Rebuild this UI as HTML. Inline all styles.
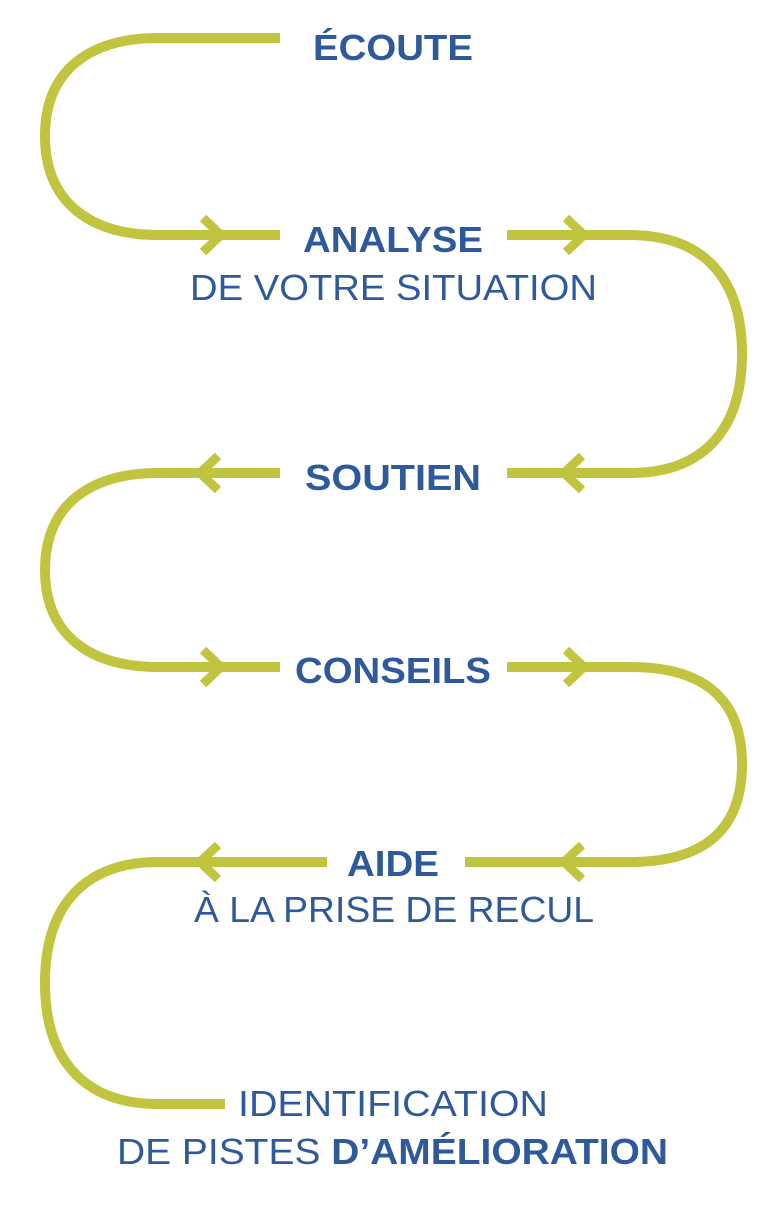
<!DOCTYPE html>
<html><head><meta charset="utf-8"><style>html,body{margin:0;padding:0;background:#fff}svg{display:block}</style></head>
<body>
<svg width="770" height="1214" viewBox="0 0 770 1214" xmlns="http://www.w3.org/2000/svg">
<g fill="none" stroke="#c0c43e" stroke-width="10">
<path d="M280 38 H158 C90 38 45 70 45 136 C45 202 90 235 158 235 H280"/>
<path d="M507 235 H630 C705 235 742 280 742 354 C742 428 705 473 630 473 H507"/>
<path d="M280 473 H158 C90 473 45 505 45 570 C45 635 90 667 158 667 H280"/>
<path d="M507 667 H630 C705 667 742 700 742 764 C742 829 705 862 630 862 H465"/>
<path d="M327 862 H158 C90 862 45 900 45 983 C45 1066 90 1104 158 1104 H225"/>
<g stroke-width="9">
<path d="M203 218 L221 235 L203 252"/>
<path d="M566 218 L584 235 L566 252"/>
<path d="M582 456 L564 473 L582 490"/>
<path d="M218 456 L200 473 L218 490"/>
<path d="M203 650 L221 667 L203 684"/>
<path d="M566 650 L584 667 L566 684"/>
<path d="M582 845 L564 862 L582 879"/>
<path d="M218 845 L200 862 L218 879"/>
</g>
</g>
<g fill="#2e5a9c" font-family="Liberation Sans, sans-serif" font-size="36" lengthAdjust="spacingAndGlyphs">
<text x="313" y="60" font-weight="bold" textLength="160" lengthAdjust="spacingAndGlyphs">ÉCOUTE</text>
<text x="303" y="252" font-weight="bold" textLength="180" lengthAdjust="spacingAndGlyphs">ANALYSE</text>
<text x="190" y="300" textLength="407" lengthAdjust="spacingAndGlyphs">DE VOTRE SITUATION</text>
<text x="305" y="490" font-weight="bold" textLength="176" lengthAdjust="spacingAndGlyphs">SOUTIEN</text>
<text x="295" y="683" font-weight="bold" textLength="196" lengthAdjust="spacingAndGlyphs">CONSEILS</text>
<text x="347" y="876" font-weight="bold" textLength="92" lengthAdjust="spacingAndGlyphs">AIDE</text>
<text x="194" y="922" textLength="400" lengthAdjust="spacingAndGlyphs">À LA PRISE DE RECUL</text>
<text x="238" y="1116" textLength="310" lengthAdjust="spacingAndGlyphs">IDENTIFICATION</text>
<text x="117" y="1164" textLength="551" lengthAdjust="spacingAndGlyphs">DE PISTES <tspan font-weight="bold">D’AMÉLIORATION</tspan></text>
</g>
</svg>
</body></html>
